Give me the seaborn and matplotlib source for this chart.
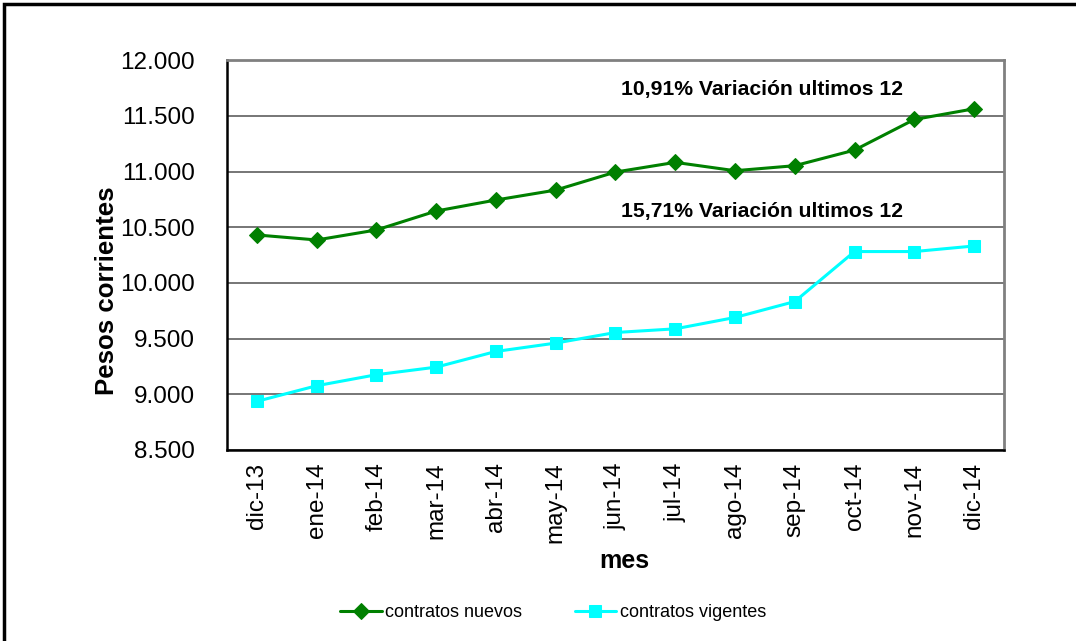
import matplotlib
matplotlib.use("Agg")
from matplotlib import pyplot as plt
from matplotlib.patches import Rectangle
from matplotlib.ticker import FuncFormatter, FixedLocator
import numpy as np
import pandas as pd
import seaborn as sns

meses = ["dic-13", "ene-14", "feb-14", "mar-14", "abr-14", "may-14", "jun-14",
         "jul-14", "ago-14", "sep-14", "oct-14", "nov-14", "dic-14"]
nuevos = [10431, 10386, 10476, 10646, 10745, 10834, 10996,
          11083, 11008, 11053, 11193, 11468, 11564]
vigentes = [8937, 9077, 9176, 9244, 9385, 9460, 9555,
            9588, 9690, 9833, 10282, 10282, 10332]
nota_nuevos = "10,91% Variación ultimos 12"
nota_vigentes = "15,71% Variación ultimos 12"

sns.set_style("white")
plt.rcParams["font.family"] = ["Liberation Sans", "DejaVu Sans"]
plt.rcParams["text.color"] = "black"
plt.rcParams["axes.labelcolor"] = "black"
plt.rcParams["xtick.color"] = "black"
plt.rcParams["ytick.color"] = "black"

df = pd.DataFrame({"pos": np.arange(len(meses)), "mes": meses,
                   "nuevos": nuevos, "vigentes": vigentes})

fig = plt.figure(figsize=(10.76, 6.41), dpi=100)
ax = fig.add_axes([0.211, 0.298, 0.722, 0.608])

ax.grid(False)
for v in np.arange(8500, 12001, 500):
    ax.axhline(v, color="#5f5f5f", lw=1.2, zorder=0)

sns.lineplot(data=df, x="pos", y="nuevos", ax=ax, color="#008000", lw=2.2,
             marker="D", markersize=8, markeredgecolor="#008000",
             label="contratos nuevos", zorder=3)
sns.lineplot(data=df, x="pos", y="vigentes", ax=ax, color="#00FFFF", lw=2.2,
             marker="s", markersize=8.5, markeredgecolor="#00FFFF",
             label="contratos vigentes", zorder=3)

ax.set_xlim(-0.5, len(meses) - 0.5)
ax.set_ylim(8500, 12000)
ax.set_yticks(np.arange(8500, 12001, 500))
ax.yaxis.set_major_formatter(FuncFormatter(lambda v, p: f"{int(v):,}".replace(",", ".")))

ax.set_xticks(np.arange(len(meses)))
ax.set_xticklabels(meses, rotation=90)
ax.xaxis.set_minor_locator(FixedLocator(np.arange(-0.5, len(meses), 1.0)))
ax.tick_params(axis="x", which="major", length=0, labelsize=17.5, pad=9)
ax.tick_params(axis="x", which="minor", length=7, width=1.2, color="#222222")
ax.tick_params(axis="y", which="major", length=7, width=1.2, color="#222222",
               labelsize=17.5, pad=16)

for s in ["left", "bottom"]:
    ax.spines[s].set_color("black")
    ax.spines[s].set_linewidth(1.8)
for s in ["top", "right"]:
    ax.spines[s].set_color("#808080")
    ax.spines[s].set_linewidth(2)

ax.set_xlabel("mes", fontsize=18, fontweight="bold")
ax.xaxis.set_label_coords(0.511, -0.255)
ax.set_ylabel("Pesos corrientes", fontsize=18.6, fontweight="bold")
ax.yaxis.set_label_coords(-0.139, 0.408)

ax.text(8.45, 11740, nota_nuevos, fontsize=15.2, fontweight="bold", ha="center", va="center")
ax.text(8.45, 10645, nota_vigentes, fontsize=15.2, fontweight="bold", ha="center", va="center")

ax.legend(loc="center", bbox_to_anchor=(0.514, 0.044), bbox_transform=fig.transFigure,
          ncol=2, frameon=False, fontsize=13, handlelength=2.3, handletextpad=0.2,
          columnspacing=2.9)

fig.patches.append(Rectangle((0.0035, -0.1), 1.2, 1.093, transform=fig.transFigure,
                             fill=False, edgecolor="black", lw=2.5, zorder=10))

fig.savefig("out.png", dpi=100)
